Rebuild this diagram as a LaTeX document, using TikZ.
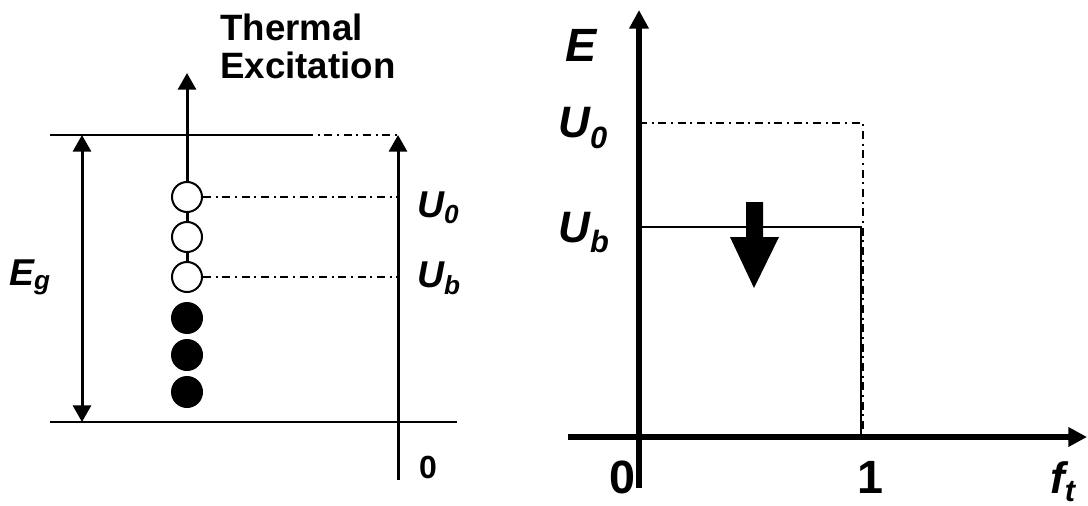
\documentclass[tikz,border=0pt]{standalone}
\usepackage{fontspec}
\setmainfont{Liberation Sans}
\usetikzlibrary{arrows.meta}
\newcommand{\sbs}[1]{\textsubscript{#1}}
\begin{document}
\begin{tikzpicture}[x=0.75pt,y=-0.75pt,
  level/.style={line width=1.5pt},
  dashdot/.style={line width=1.9pt,dash pattern=on 6pt off 3.5pt on 1.5pt off 3.5pt},
  arrowline/.style={line width=2.25pt},
  tip/.style={-{Triangle[length=12.5pt,width=13.5pt]}},
  bothtip/.style={{Triangle[length=12.5pt,width=13.5pt]}-{Triangle[length=12.5pt,width=13.5pt]}},
  axis/.style={line width=5pt},
  axtip/.style={-{Triangle[length=14pt,width=14pt]}},
  empty/.style={circle,draw,line width=1.5pt,fill=white,minimum size=22.5pt,inner sep=0pt},
  full/.style={circle,fill=black,minimum size=24pt,inner sep=0pt},
  smalllab/.style={font=\fontsize{28}{30}\selectfont\bfseries\itshape,inner sep=0pt},
  biglab/.style={font=\fontsize{33}{36}\selectfont\bfseries\itshape,inner sep=0pt},
  numlab/.style={font=\fontsize{35}{38}\selectfont\bfseries,inner sep=0pt},
  title/.style={font=\fontsize{27.5}{28.5}\selectfont\bfseries,align=left,inner sep=0pt}
]
\useasboundingbox (0,0) rectangle (1088,506);

% ---------- left diagram ----------
\coordinate (tl) at (50,135);
\coordinate (tm) at (305,135);
\coordinate (tr) at (398,135);
\coordinate (bl) at (50,422);
\coordinate (br) at (457,422);
\coordinate (egtop) at (82,135);
\coordinate (egbot) at (82,422);
\coordinate (vbot) at (398,480);
\coordinate (vtop) at (398,135);
\coordinate (thtip) at (187,73);
\coordinate (u0r) at (398,197);
\coordinate (ubr) at (398,277);

\draw[level] (tl) -- (tm);
\draw[dashdot] (tm) -- (tr);
\draw[level] (bl) -- (br);
\draw[arrowline,bothtip] (egtop) -- (egbot);
\draw[arrowline,tip] (vbot) -- (vtop);

\node[empty] (c1) at (187,197) {};
\node[empty] (c2) at (187,237) {};
\node[empty] (c3) at (187,277) {};
\node[full] (c4) at (187,318) {};
\node[full] (c5) at (187,355) {};
\node[full] (c6) at (187,392) {};

\draw[arrowline,tip] (c1.north) -- (thtip);
\draw[arrowline] (c1.south) -- (c2.north);
\draw[arrowline] (c2.south) -- (c3.north);
\draw[dashdot] (c1.east) -- (u0r);
\draw[dashdot] (c3.east) -- (ubr);

\node[title,anchor=north west] (th) at (220,14) {Thermal\\Excitation};
\node[smalllab,anchor=base west] (lu0) at (417,217) {U\sbs{0}};
\node[smalllab,anchor=base west] (lub) at (417,287) {U\sbs{b}};
\node[smalllab,anchor=base west] (eg) at (9,285) {E\sbs{g}};
\node[font=\fontsize{24}{26}\selectfont\bfseries,inner sep=0pt,anchor=base] (lz) at (428,478) {0};

% ---------- right diagram ----------
\coordinate (o) at (639,437);
\coordinate (ybot) at (639,488);
\coordinate (ytop) at (639,10);
\coordinate (xl) at (568,437);
\coordinate (xr) at (1087,437);
\coordinate (a0) at (639,123);
\coordinate (b0) at (863,123);
\coordinate (c0) at (863,437);
\coordinate (ab) at (639,227);
\coordinate (bb) at (861,227);
\coordinate (cb) at (861,437);

\draw[line width=1.5pt] (ab) -- (bb) -- (cb);
\draw[dashdot] (a0) -- (b0) -- (c0);
\draw[axis,axtip] (ybot) -- (ytop);
\draw[axis,axtip] (xl) -- (xr);

\fill (746,202) -- (763,202) -- (763,237) -- (779,237) -- (754,288) -- (730,237) -- (746,237) -- cycle;

\node[font=\fontsize{35}{38}\selectfont\bfseries\itshape,inner sep=0pt,anchor=base west] (re) at (565,62) {E};
\node[biglab,anchor=base west] (ru0) at (558,138) {U\sbs{0}};
\node[biglab,anchor=base west] (rub) at (558,242) {U\sbs{b}};
\node[numlab,anchor=base] (rz) at (622,493) {0};
\node[numlab,anchor=base] (r1) at (870,493) {1};
\node[font=\fontsize{33}{36}\selectfont\bfseries\itshape,inner sep=0pt,anchor=base west] (ft) at (1050,493) {f\textsubscript{t}};
\end{tikzpicture}
\end{document}
